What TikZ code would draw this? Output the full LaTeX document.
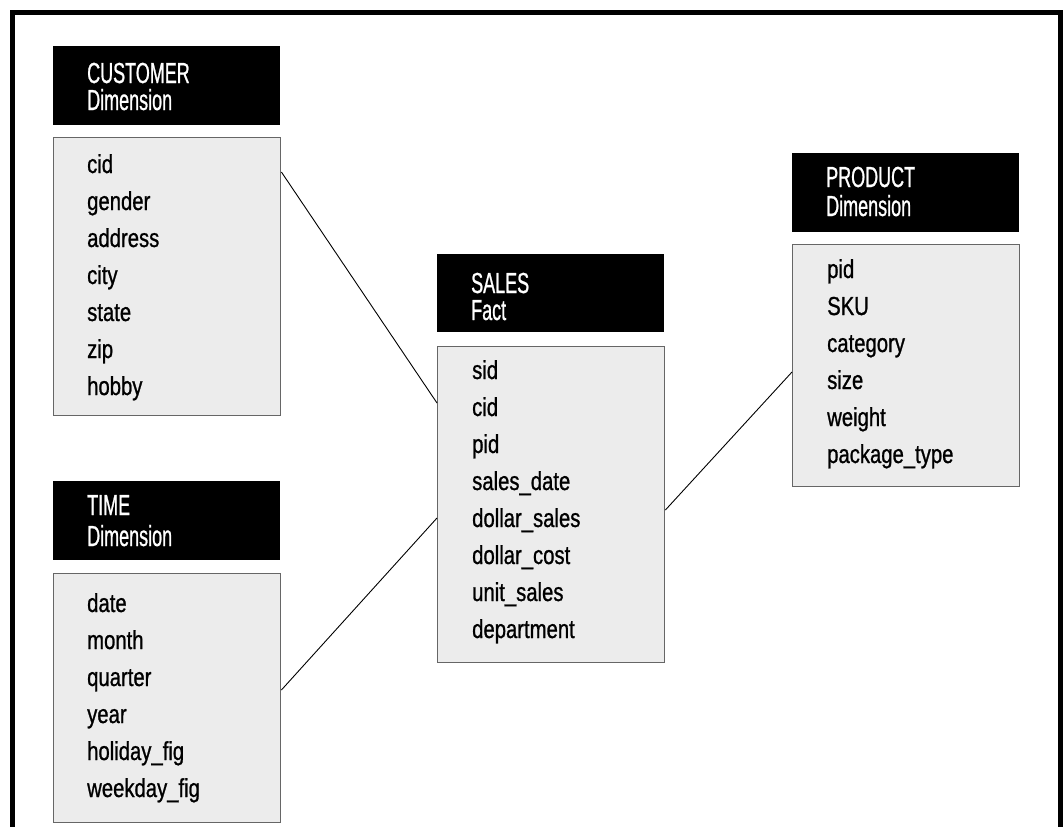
\documentclass[tikz,border=0pt]{standalone}
\usepackage{fontspec}
\setmainfont{Liberation Sans}
\newfontfamily\hdrfont{Liberation Sans}[FakeStretch=0.62, FakeBold=0.8]
\newfontfamily\fieldfont{Liberation Sans}[FakeStretch=0.78, FakeBold=0.9]
\usetikzlibrary{calc}
\definecolor{bodyfill}{HTML}{ECECEC}
\definecolor{bodyedge}{HTML}{666666}
\tikzset{
  hdrbox/.style={fill=black, draw=none, anchor=north west, inner sep=0pt,
    minimum width=227pt, minimum height=79pt},
  bodybox/.style={fill=bodyfill, draw=bodyedge, line width=1.4pt, anchor=north west,
    inner sep=0pt, minimum width=227pt},
  hdrtext/.style={anchor=base west, inner sep=0pt, text=white,
    font=\hdrfont\fontsize{29}{29}\selectfont},
  fieldtext/.style={anchor=base west, inner sep=0pt, text=black,
    font=\fieldfont\fontsize{26}{26}\selectfont},
  link/.style={draw=black, line width=0.9pt},
  frame/.style={draw=black, line width=5pt, line join=miter},
}
\begin{document}
\begin{tikzpicture}[x=1pt, y=-1pt]
\useasboundingbox (0,0) rectangle (1063,827);

% outer frame, open at the bottom
\draw[frame] (12.5,830) -- (12.5,12.5) -- (1060.5,12.5) -- (1060.5,830);

% --- CUSTOMER dimension ---
\node[hdrbox] (ch) at (53,46) {};
\node[hdrtext] (cht1) at ($(ch.north west)+(34,37)$) {CUSTOMER};
\node[hdrtext] (cht2) at ($(ch.north west)+(34,64)$) {Dimension};
\node[bodybox, minimum height=278pt] (cb) at (53,137) {};
\foreach \f [count=\i] in {cid,gender,address,city,state,zip,hobby}
  \node[fieldtext] (cf\i) at ($(cb.north west)+(34,36+37*\i-37)$) {\f};

% --- TIME dimension ---
\node[hdrbox] (th) at (53,481) {};
\node[hdrtext] (tht1) at ($(th.north west)+(34,34)$) {TIME};
\node[hdrtext] (tht2) at ($(th.north west)+(34,65)$) {Dimension};
\node[bodybox, minimum height=249pt] (tb) at (53,573) {};
\foreach \f [count=\i] in {date,month,quarter,year,holiday\_fig,weekday\_fig}
  \node[fieldtext] (tf\i) at ($(tb.north west)+(34,39+37*\i-37)$) {\f};

% --- SALES fact ---
\node[hdrbox, minimum height=78pt] (sh) at (437,254) {};
\node[hdrtext] (sht1) at ($(sh.north west)+(34,39)$) {SALES};
\node[hdrtext] (sht2) at ($(sh.north west)+(34,66)$) {Fact};
\node[bodybox, minimum height=316pt] (sb) at (437,346) {};
\foreach \f [count=\i] in {sid,cid,pid,sales\_date,dollar\_sales,dollar\_cost,unit\_sales,department}
  \node[fieldtext] (sf\i) at ($(sb.north west)+(35,33+37*\i-37)$) {\f};

% --- PRODUCT dimension ---
\node[hdrbox] (ph) at (792,153) {};
\node[hdrtext] (pht1) at ($(ph.north west)+(34,34)$) {PRODUCT};
\node[hdrtext] (pht2) at ($(ph.north west)+(34,63)$) {Dimension};
\node[bodybox, minimum height=242pt] (pb) at (792,244) {};
\foreach \f [count=\i] in {pid,SKU,category,size,weight,package\_type}
  \node[fieldtext] (pf\i) at ($(pb.north west)+(35,34+37*\i-37)$) {\f};

% attachment points on the box sides
\coordinate (cbR) at ($(cb.north east)+(0,35)$);
\coordinate (tbR) at ($(tb.north east)+(0,117)$);
\coordinate (sbL1) at ($(sb.north west)+(0,57)$);
\coordinate (sbL2) at ($(sb.north west)+(0,172)$);
\coordinate (sbR) at ($(sb.north east)+(0,164)$);
\coordinate (pbL) at ($(pb.north west)+(0,128)$);

% connectors between dimensions and the fact table
\draw[link] (cbR) -- (sbL1);
\draw[link] (tbR) -- (sbL2);
\draw[link] (sbR) -- (pbL);
\end{tikzpicture}
\end{document}
